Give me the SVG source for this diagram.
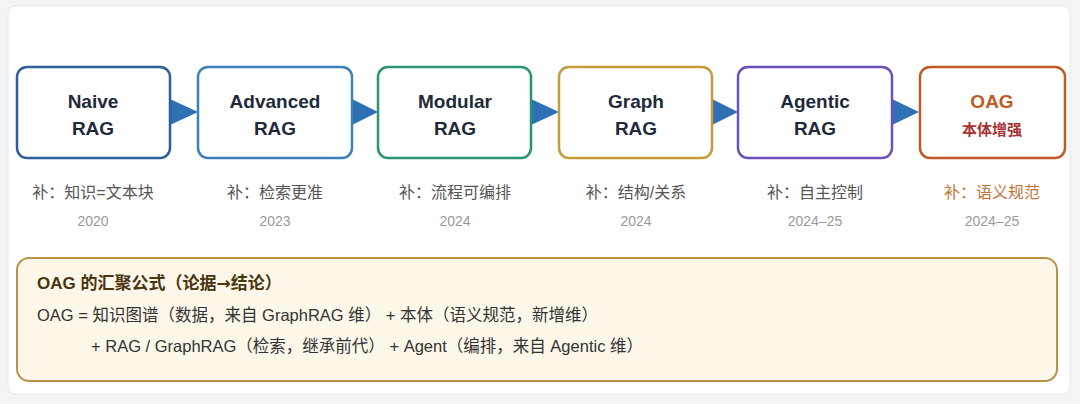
<svg xmlns="http://www.w3.org/2000/svg" width="1080" height="404" viewBox="0 0 1080 404">
<style>
.n{fill:#fff;stroke-width:2.5}
.t{font-family:"Liberation Sans",Arial,sans-serif;font-weight:bold;font-size:19px;fill:#1e2a3a;text-anchor:middle}
.s{font-family:"Liberation Sans","Noto Sans CJK SC",sans-serif;font-size:16px;fill:#555;text-anchor:middle}
.y{font-family:"Liberation Sans",sans-serif;font-size:14px;fill:#999;text-anchor:middle}
.f{font-family:"Liberation Sans","Noto Sans CJK SC",sans-serif;font-size:16.5px;fill:#333}
.a{fill:#2f6fb3}
</style>
<rect x="0" y="0" width="1080" height="404" fill="#f3f4f6"/>
<rect x="8" y="6" width="1062" height="388" rx="8" fill="#fff" stroke="#e5e7eb"/>
<g id="connectors">
<polygon class="a" points="170,99 198,112 170,125"/>
<polygon class="a" points="352,99 378,112 352,125"/>
<polygon class="a" points="531,99 559,112 531,125"/>
<polygon class="a" points="712,99 738,112 712,125"/>
<polygon class="a" points="892,99 919,112 892,125"/>
</g>
<g id="naive"><rect class="n" x="17" y="67" width="153" height="91" rx="10" stroke="#2f5f98"/><text class="t" x="93" y="108">Naive</text><text class="t" x="93" y="135">RAG</text><text class="s" x="93" y="198">补：知识=文本块</text><text class="y" x="93" y="226">2020</text></g>
<g id="advanced"><rect class="n" x="198" y="67" width="154" height="91" rx="10" stroke="#3d7fb8"/><text class="t" x="275" y="108">Advanced</text><text class="t" x="275" y="135">RAG</text><text class="s" x="275" y="198">补：检索更准</text><text class="y" x="275" y="226">2023</text></g>
<g id="modular"><rect class="n" x="378" y="67" width="153" height="91" rx="10" stroke="#2a9476"/><text class="t" x="455" y="108">Modular</text><text class="t" x="455" y="135">RAG</text><text class="s" x="455" y="198">补：流程可编排</text><text class="y" x="455" y="226">2024</text></g>
<g id="graph"><rect class="n" x="559" y="67" width="153" height="91" rx="10" stroke="#c49a3a"/><text class="t" x="636" y="108">Graph</text><text class="t" x="636" y="135">RAG</text><text class="s" x="636" y="198">补：结构/关系</text><text class="y" x="636" y="226">2024</text></g>
<g id="agentic"><rect class="n" x="738" y="67" width="154" height="91" rx="10" stroke="#6d4fb8"/><text class="t" x="815" y="108">Agentic</text><text class="t" x="815" y="135">RAG</text><text class="s" x="815" y="198">补：自主控制</text><text class="y" x="815" y="226">2024–25</text></g>
<g id="oag"><rect class="n" x="920" y="67" width="145" height="91" rx="10" stroke="#c05a25" stroke-width="3.5"/><text class="t" x="992" y="108" style="fill:#c05a25">OAG</text><text class="t" x="992" y="135" style="fill:#a83232;font-size:15px;font-family:'Noto Sans CJK SC',sans-serif">本体增强</text><text class="s" x="992" y="198" style="fill:#c0743a">补：语义规范</text><text class="y" x="992" y="226">2024–25</text></g>
<g id="formula">
<rect x="17" y="258" width="1040" height="123" rx="12" fill="#fdf7ea" stroke="#b8924a" stroke-width="2"/>
<text class="f" x="37" y="289" style="font-weight:bold;font-size:17px;fill:#4a3510">OAG 的汇聚公式（论据<tspan font-family="DejaVu Sans">→</tspan>结论）</text>
<text class="f" x="37" y="321">OAG = 知识图谱（数据，来自 GraphRAG 维） + 本体（语义规范，新增维）</text>
<text class="f" x="91" y="352">+ RAG / GraphRAG（检索，继承前代） + Agent（编排，来自 Agentic 维）</text>
</g>
</svg>
